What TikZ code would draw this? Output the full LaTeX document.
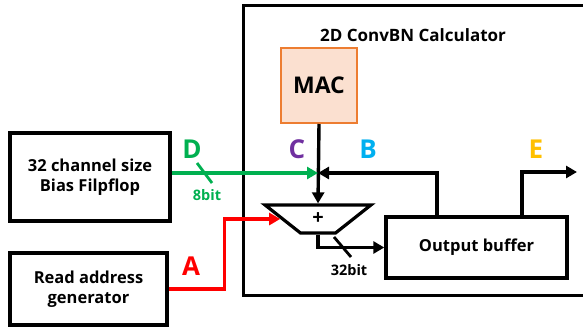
\documentclass[tikz,border=0pt]{standalone}
\usepackage{fontspec}
\setmainfont{Open Sans}
\usetikzlibrary{arrows.meta,shapes.geometric}
\definecolor{sigred}{HTML}{FF0000}
\definecolor{siggreen}{HTML}{00B050}
\definecolor{sigblue}{HTML}{00B0F0}
\definecolor{sigpurple}{HTML}{7030A0}
\definecolor{sigyellow}{HTML}{FFC000}
\definecolor{macfill}{HTML}{FBE0D0}
\definecolor{macdraw}{HTML}{ED7D31}
\tikzset{
    conv diagram/.style = {>={Triangle[length=11pt,width=12pt]}},
    line/.style         = {line width=3.4pt},
    txt/.style          = {font=\fontsize{16.5}{20}\selectfont\bfseries},
    block/.style        = {draw, line width=3.4pt, txt, align=center},
    macblock/.style     = {block, draw=macdraw, fill=macfill, line width=2pt,
                           font=\fontsize{23}{23}\selectfont\bfseries},
    adder/.style        = {draw, line width=3.2pt, trapezium, shape border rotate=180,
                           trapezium stretches=true, trapezium angle=46,
                           minimum width=106pt, minimum height=28pt, inner sep=0pt,
                           font=\fontsize{20}{20}\selectfont\bfseries},
    letter/.style       = {font=\fontsize{26}{26}\selectfont\bfseries},
    bits/.style         = {font=\fontsize{14.5}{16}\selectfont\bfseries},
    tick/.style         = {line width=2.8pt}
}

\begin{document}
\begin{tikzpicture}[conv diagram,x=1pt,y=-1pt]
\useasboundingbox (0,0) rectangle (583,328);
\clip (0,0) rectangle (583,328);

\node[block,minimum width=360pt,minimum height=290pt,anchor=north west] (calc) at (242,4) {};
\node[txt,font=\fontsize{17}{20}\selectfont\bfseries] (title) at (413,35) {2D ConvBN Calculator};
\node[macblock,minimum width=76pt,minimum height=75pt] (mac) at (319,85.5) {MAC};

\node[block,minimum width=160pt,minimum height=88pt] (bias) at (90,177)
    {32 channel size\\Bias Filpflop};
\node[block,minimum width=157pt,minimum height=72pt] (raddr) at (88.5,289)
    {Read address\\generator};

\node[adder] (mux) at (318,219) {+};
\node[block,minimum width=181pt,minimum height=61pt] (obuf) at (476.5,247.5) {Output buffer};

\coordinate (join) at (318,173);
\coordinate (eout) at (577,172);

\draw[->,line] (mac.south) -- (mux.north);
\draw[->,line,siggreen] (join -| bias.east) -- (join);
\draw[->,line] ([xshift=-39.5pt]obuf.north) |- (join);
\draw[->,line] ([xshift=45.5pt]obuf.north) |- (eout);
\draw[->,line,sigred] (raddr.east) -- ++(56,0) |- (mux.west);
\draw[->,line] (mux.south) |- (obuf.west);

\draw[tick,siggreen] (197,163) -- (212,183);
\draw[tick] (334,237) -- (351,257);
\node[bits,text=siggreen] (dbits) at (207,195) {8bit};
\node[bits] (cbits) at (349,270) {32bit};

\foreach \name/\col/\x/\y in {A/sigred/191/266,B/sigblue/368/149,C/sigpurple/297/149,
                              D/siggreen/192/149,E/sigyellow/536/149}
    \node[letter,text=\col] (lbl\name) at (\x,\y) {\name};
\end{tikzpicture}
\end{document}
